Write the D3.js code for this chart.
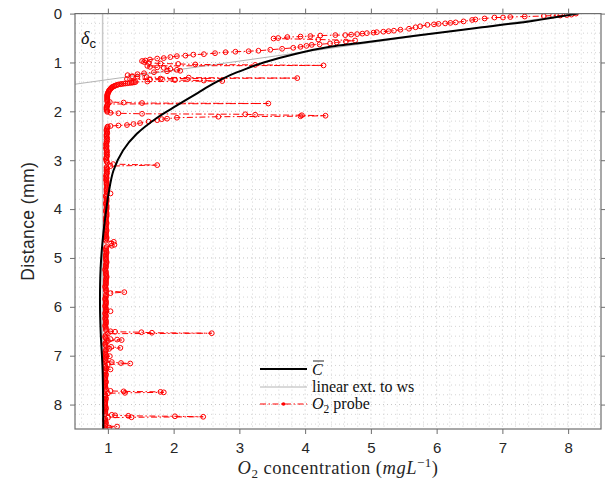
<!DOCTYPE html>
<html><head><meta charset="utf-8">
<script src="https://cdn.jsdelivr.net/npm/d3@7"></script>
<style>body{margin:0;background:#fff} svg{display:block}</style>
</head><body>
<svg id="chart" width="605" height="483"></svg>
<script>
// Tick values
const xTicks = [1, 2, 3, 4, 5, 6, 7, 8];
const yTicks = [0, 1, 2, 3, 4, 5, 6, 7, 8];

// Mean concentration profile C̄ (depth in mm, concentration in mg/L)
const meanDepth = [0.00, 0.15, 0.30, 0.45, 0.60, 0.68, 0.815, 1.00, 1.12, 1.26, 1.43, 1.62, 1.88, 2.12, 2.46, 2.80, 3.21, 3.69, 4.17, 4.65, 5.20, 5.88, 6.50, 7.30, 8.50];
const meanConc  = [8.15, 7.45, 6.58, 5.70, 4.84, 4.38, 3.88, 3.37, 3.12, 2.86, 2.61, 2.37, 2.05, 1.76, 1.44, 1.23, 1.085, 1.01, 0.96, 0.92, 0.89, 0.88, 0.89, 0.92, 0.93];

// Linear extension of the wall gradient up to the water surface
const extDepth = [0.0, 1.445];
const extConc  = [8.13, 0.50];

// Bulk level marker
const bulkConc = 0.92;

// O2 probe readings, in the order they were taken: [depth mm, concentration mg/L]
const probeProfile = [
  [0.00,8.12],[0.02,8.05],[0.03,7.98],[0.04,7.88],[0.04,7.77],[0.05,7.63],[0.06,7.34],[0.07,7.12],
  [0.08,7.01],[0.08,6.88],[0.10,6.73],[0.12,6.59],[0.13,6.54],[0.16,6.41],[0.18,6.29],[0.19,6.21],
  [0.20,6.13],[0.21,6.03],[0.22,5.96],[0.23,5.86],[0.26,5.75],[0.28,5.68],[0.31,5.58],[0.33,5.45],
  [0.35,5.35],[0.36,5.27],[0.37,5.19],[0.38,5.09],[0.39,5.04],[0.40,4.94],[0.41,4.87],[0.42,4.79],
  [0.43,4.70],[0.44,4.61],[0.44,4.46],[0.45,4.23],[0.46,4.08],[0.47,3.93],[0.48,3.73],[0.50,3.59],
  [0.51,3.52],[0.53,4.20],[0.55,4.76],[0.57,4.62],[0.59,4.48],[0.61,4.38],[0.63,4.22],[0.64,4.10],
  [0.66,4.02],[0.68,3.93],[0.70,3.82],[0.72,3.65],[0.74,3.47],[0.76,3.29],[0.77,3.14],[0.78,2.94],
  [0.79,2.79],[0.81,2.63],[0.83,2.46],[0.84,2.30],[0.86,2.18],[0.87,2.05],[0.89,1.95],[0.91,1.85],
  [0.92,1.75],[0.94,1.64],[0.96,1.57],[0.97,1.52],[0.99,1.55],[1.01,1.62],[1.02,1.80],[1.03,2.07],
  [1.04,2.33],[1.05,3.24],[1.06,4.28],[1.07,1.60],[1.09,1.64],[1.10,1.75],[1.11,1.85],[1.13,1.95],
  [1.15,2.05],[1.17,2.10],[1.18,1.90],[1.20,1.70],[1.22,1.55],[1.24,1.45],[1.26,1.30],[1.28,1.37],
  [1.29,1.45],[1.30,1.59],[1.31,2.23],[1.32,3.88],[1.33,1.80],[1.34,1.29],[1.35,1.64],[1.36,2.02],
  [1.37,2.46],[1.38,2.74],[1.39,1.60],[1.40,1.42],[1.405,1.40],[1.41,1.38],[1.415,1.36],[1.42,1.33],
  [1.425,1.30],[1.43,1.27],[1.435,1.24],[1.44,1.21],[1.445,1.19],[1.45,1.16],[1.46,1.14],[1.47,1.12],
  [1.48,1.10],[1.49,1.09],[1.50,1.07],[1.51,1.06],[1.525,1.05],[1.54,1.04],[1.555,1.03],[1.57,1.02],
  [1.585,1.015],[1.60,1.01],[1.62,1.00],[1.64,1.00],[1.66,0.99],[1.68,0.99],[1.70,0.99],[1.72,0.99],
  [1.74,0.99],[1.76,0.99],[1.78,0.99],[1.80,0.99],[1.81,1.03],[1.82,1.24],[1.83,1.52],[1.84,3.44],
  [1.85,1.00],[1.87,0.99],[1.89,0.99],[1.91,0.98],[1.93,0.98],[1.95,0.98],[1.97,0.98],[1.99,0.99],
  [2.01,0.99],[2.03,1.04],[2.04,1.16],[2.05,1.52],[2.06,3.09],[2.07,3.24],[2.08,3.95],[2.09,4.31],
  [2.10,3.93],[2.11,2.68],[2.13,2.05],[2.15,1.90],[2.16,1.82],[2.18,1.75],[2.21,1.62],[2.24,1.49],
  [2.26,1.39],[2.28,1.29],[2.29,1.16],[2.30,1.04],[2.31,1.00],
  [2.325,0.99],[2.35,0.99],[2.375,0.98],[2.40,0.98],[2.425,0.99],[2.45,0.99],[2.475,0.98],[2.50,0.98],
  [2.525,0.98],[2.55,0.99],[2.575,0.98],[2.60,0.99],[2.625,0.98],[2.65,0.98],[2.675,0.97],[2.70,0.98],
  [2.725,0.98],[2.75,0.97],[2.775,0.98],[2.80,0.98],[2.825,0.99],[2.85,0.98],[2.875,0.98],[2.90,0.99],
  [2.925,0.98],[2.95,0.98],[2.975,0.97],[3.00,0.98],[3.025,0.98],[3.05,0.99],[3.08,1.08],[3.10,1.75],
  [3.12,1.04],[3.14,0.98],[3.16,0.98],[3.175,0.99],[3.20,0.98],[3.225,0.98],[3.25,0.99],[3.275,0.98],
  [3.30,0.98],[3.325,0.97],[3.35,0.98],[3.375,0.98],[3.40,0.97],[3.425,0.98],[3.45,0.98],[3.475,0.98],
  [3.50,0.98],[3.525,0.99],[3.55,0.99],[3.575,0.98],[3.60,0.98],[3.625,0.98],[3.65,0.98],[3.68,1.04],
  [3.70,0.98],[3.725,0.97],[3.75,0.97],[3.775,0.98],[3.80,0.98],[3.825,0.98],[3.85,0.98],[3.875,0.97],
  [3.90,0.97],[3.925,0.98],[3.95,0.98],[3.975,0.98],[4.00,0.98],[4.025,0.97],[4.05,0.97],[4.075,0.98],
  [4.10,0.98],[4.125,0.98],[4.15,0.98],[4.175,0.97],[4.20,0.97],[4.225,0.97],[4.25,0.97],[4.275,0.98],
  [4.30,0.98],[4.325,0.97],[4.35,0.97],[4.375,0.97],[4.40,0.97],[4.425,0.98],[4.45,0.98],[4.475,0.97],
  [4.50,0.97],[4.525,0.97],[4.55,0.97],[4.575,0.98],[4.60,0.98],[4.625,0.97],[4.65,0.97],[4.67,1.09],
  [4.70,1.05],[4.73,1.10],[4.75,1.06],[4.775,0.98],[4.80,0.97],[4.825,0.97],[4.85,0.97],[4.875,0.98],
  [4.90,0.98],[4.925,0.97],[4.95,0.97],[4.975,0.97],[5.00,0.97],[5.025,0.97],[5.05,0.97],[5.075,0.98],
  [5.10,0.98],[5.125,0.97],[5.15,0.97],[5.175,0.97],[5.20,0.97],[5.225,0.96],[5.25,0.96],[5.275,0.97],
  [5.30,0.97],[5.325,0.97],[5.35,0.97],[5.375,0.98],[5.40,0.98],[5.425,0.97],[5.45,0.97],[5.475,0.97],
  [5.50,0.97],[5.525,0.97],[5.55,0.97],[5.575,0.96],[5.60,0.96],[5.625,0.97],[5.65,0.97],[5.675,0.97],
  [5.70,1.25],[5.72,1.04],[5.75,0.97],[5.775,0.97],[5.80,0.97],[5.825,0.96],[5.85,0.96],[5.875,0.97],
  [5.90,0.97],[5.925,0.97],[5.95,0.97],[5.975,0.96],[6.00,0.96],[6.025,0.97],[6.05,0.97],[6.075,0.97],
  [6.09,1.04],[6.10,0.97],[6.125,0.96],[6.15,0.96],[6.175,0.97],[6.20,0.97],[6.225,0.96],[6.25,0.96],
  [6.275,0.97],[6.30,0.97],[6.325,0.97],[6.35,0.97],[6.375,0.96],[6.40,0.96],[6.425,0.97],[6.45,0.97],
  [6.475,0.97],[6.50,1.04],[6.51,1.11],[6.52,1.51],[6.53,1.67],[6.54,2.58],[6.55,1.00],[6.575,0.97],
  [6.60,0.96],[6.625,0.96],[6.645,0.97],[6.66,1.04],[6.67,1.14],[6.68,1.21],[6.70,1.00],[6.725,0.97],
  [6.75,0.96],[6.775,0.96],[6.80,0.97],[6.82,1.05],[6.84,1.19],[6.86,1.02],[6.875,0.97],[6.90,0.97],
  [6.925,0.96],[6.95,0.96],[6.975,0.97],[6.99,0.97],[7.01,1.03],[7.025,0.97],[7.05,0.97],[7.075,0.96],
  [7.10,0.96],[7.115,0.97],[7.13,1.06],[7.15,1.20],[7.16,1.34],[7.18,1.00],[7.20,0.96],[7.225,0.96],
  [7.25,0.97],[7.265,0.97],[7.28,1.04],[7.30,0.96],[7.325,0.96],[7.35,0.96],[7.375,0.97],[7.40,0.97],
  [7.425,0.96],[7.45,0.96],[7.475,0.96],[7.50,0.96],[7.525,0.97],[7.55,0.97],[7.575,0.96],[7.60,0.96],
  [7.625,0.96],[7.65,0.96],[7.675,0.97],[7.70,0.97],[7.72,1.04],[7.73,1.24],[7.74,1.80],[7.75,1.85],
  [7.76,1.26],[7.77,1.00],[7.79,0.96],[7.815,0.96],[7.84,0.96],[7.865,0.97],[7.89,0.97],[7.915,0.96],
  [7.94,0.96],[7.965,0.96],[7.99,0.96],[8.015,0.96],[8.04,0.96],[8.065,0.97],[8.09,0.97],[8.115,0.96],
  [8.14,0.96],[8.165,0.96],[8.19,0.96],[8.21,1.06],[8.22,1.11],[8.23,1.31],[8.24,2.02],[8.25,2.45],
  [8.26,1.36],[8.27,1.00],[8.29,0.96],[8.315,0.96],[8.34,0.96],[8.365,0.97],[8.39,0.97],[8.415,0.96],
  [8.435,0.96],[8.45,1.14],[8.47,1.02],[8.49,0.96],[8.51,0.96]
];

const svg = d3.select("#chart");
const x = d3.scaleLinear().domain([0.5, 8.5]).range([75, 601]);
const y = d3.scaleLinear().domain([0, 8.5]).range([13.6, 429]);
const [x0, x1] = x.range(), [y0, y1] = y.range();

svg.append("rect").attr("width", 605).attr("height", 483).attr("fill", "#fff");

svg.append("defs").append("clipPath").attr("id", "plotClip")
  .append("rect").attr("x", x0).attr("y", y0).attr("width", x1 - x0).attr("height", y1 - y0);

// Dotted grid, minor and major
const grid = svg.append("g");
const isWhole = d => Math.abs(d - Math.round(d)) < 1e-6;
grid.selectAll(".gx").data(x.ticks(40)).join("line")
  .attr("x1", d => x(d)).attr("x2", d => x(d)).attr("y1", y0).attr("y2", y1)
  .attr("stroke", d => isWhole(d) ? "#c4c4c4" : "#d4d4d4")
  .attr("stroke-width", 1).attr("stroke-dasharray", "1,3");
grid.selectAll(".gy").data(y.ticks(43)).join("line")
  .attr("y1", d => y(d)).attr("y2", d => y(d)).attr("x1", x0).attr("x2", x1)
  .attr("stroke", d => isWhole(d) ? "#c4c4c4" : "#d4d4d4")
  .attr("stroke-width", 1).attr("stroke-dasharray", "1,3");

const plot = svg.append("g").attr("clip-path", "url(#plotClip)");

// Bulk level (vertical) and linear extension
plot.append("line")
  .attr("x1", x(bulkConc)).attr("x2", x(bulkConc)).attr("y1", y0).attr("y2", y1)
  .attr("stroke", "#c8c8c8").attr("stroke-width", 1.5);
plot.append("path")
  .datum(d3.zip(extConc, extDepth))
  .attr("d", d3.line().x(d => x(d[0])).y(d => y(d[1])))
  .attr("fill", "none").attr("stroke", "#b4b4b4").attr("stroke-width", 1);

// Probe readings
const red = "#ff0000";
plot.append("path")
  .datum(probeProfile)
  .attr("d", d3.line().x(d => x(d[1])).y(d => y(d[0])))
  .attr("fill", "none").attr("stroke", red).attr("stroke-width", 1)
  .attr("stroke-dasharray", "6,2.5,1.5,2.5");
plot.selectAll(".probe").data(probeProfile).join("circle")
  .attr("cx", d => x(d[1])).attr("cy", d => y(d[0])).attr("r", 2.4)
  .attr("fill", "none").attr("stroke", red).attr("stroke-width", 1);

// Mean profile
plot.append("path")
  .datum(d3.zip(meanConc, meanDepth))
  .attr("d", d3.line().curve(d3.curveCatmullRom.alpha(0.5)).x(d => x(d[0])).y(d => y(d[1])))
  .attr("fill", "none").attr("stroke", "#000").attr("stroke-width", 2);

// Axes box and ticks
const axisColor = "#6e6e6e";
const styleAxis = g => {
  g.select(".domain").remove();
  g.selectAll(".tick line").attr("stroke", axisColor).attr("stroke-width", 1);
  g.selectAll(".tick text").attr("fill", "#262626")
    .attr("font-family", "'Liberation Sans', Arial, sans-serif").attr("font-size", 15);
};
svg.append("g").attr("transform", `translate(0,${y1})`)
  .call(d3.axisBottom(x).tickValues(xTicks).tickSize(5).tickPadding(8).tickFormat(d3.format("d"))).call(styleAxis);
svg.append("g").attr("transform", `translate(0,${y0})`)
  .call(d3.axisTop(x).tickValues(xTicks).tickSize(5).tickFormat("")).call(styleAxis);
svg.append("g").attr("transform", `translate(${x0},0)`)
  .call(d3.axisLeft(y).tickValues(yTicks).tickSize(5).tickPadding(8).tickFormat(d3.format("d"))).call(styleAxis);
svg.append("g").attr("transform", `translate(${x1},0)`)
  .call(d3.axisRight(y).tickValues(yTicks).tickSize(5).tickFormat("")).call(styleAxis);
svg.append("rect").attr("x", x0).attr("y", y0).attr("width", x1 - x0).attr("height", y1 - y0)
  .attr("fill", "none").attr("stroke", axisColor).attr("stroke-width", 1.2);

// δc label
const dl = svg.append("text").attr("x", 81).attr("y", 44).attr("fill", "#111");
dl.append("tspan").attr("font-family", "'Liberation Serif', serif").attr("font-style", "italic").attr("font-size", 18).text("δ");
dl.append("tspan").attr("font-family", "'Liberation Sans', sans-serif").attr("font-size", 13).attr("dy", 4).text("c");

// Axis titles
svg.append("text")
  .attr("transform", `translate(34,${(y0 + y1) / 2}) rotate(-90)`)
  .attr("text-anchor", "middle").attr("fill", "#262626")
  .attr("font-family", "'Liberation Sans', Arial, sans-serif").attr("font-size", 17.5)
  .attr("letter-spacing", 0.4)
  .text("Distance (mm)");

const xl = svg.append("text").attr("x", (x0 + x1) / 2).attr("y", 474).attr("text-anchor", "middle")
  .attr("fill", "#262626").attr("font-family", "'Liberation Serif', serif").attr("font-size", 18.5)
  .attr("letter-spacing", 0.5);
xl.append("tspan").attr("font-style", "italic").text("O");
xl.append("tspan").attr("font-size", 13).attr("dy", 4).text("2");
xl.append("tspan").attr("dy", -4).text(" concentration (");
xl.append("tspan").attr("font-style", "italic").text("mgL");
xl.append("tspan").attr("font-size", 13).attr("dy", -7).text("−1");
xl.append("tspan").attr("dy", 7).text(")");

// Legend
const lg = svg.append("g").attr("font-family", "'Liberation Serif', serif").attr("font-size", 16).attr("fill", "#111");
lg.append("line").attr("x1", 260).attr("x2", 307).attr("y1", 369).attr("y2", 369).attr("stroke", "#000").attr("stroke-width", 2);
lg.append("text").attr("x", 312).attr("y", 375).attr("font-style", "italic").text("C");
lg.append("line").attr("x1", 313).attr("x2", 324).attr("y1", 361).attr("y2", 361).attr("stroke", "#111").attr("stroke-width", 0.9);
lg.append("line").attr("x1", 260).attr("x2", 307).attr("y1", 387).attr("y2", 387).attr("stroke", "#b4b4b4").attr("stroke-width", 1);
lg.append("text").attr("x", 312).attr("y", 391.5).text("linear ext. to ws");
lg.append("line").attr("x1", 260).attr("x2", 307).attr("y1", 404).attr("y2", 404)
  .attr("stroke", red).attr("stroke-width", 1).attr("stroke-dasharray", "6,2.5,1.5,2.5");
lg.append("circle").attr("cx", 283.5).attr("cy", 404).attr("r", 1.8).attr("fill", red);
const ol = lg.append("text").attr("x", 312).attr("y", 409);
ol.append("tspan").attr("font-style", "italic").text("O");
ol.append("tspan").attr("font-size", 11.5).attr("dy", 3.5).text("2");
ol.append("tspan").attr("dy", -3.5).text(" probe");
</script>
</body></html>
